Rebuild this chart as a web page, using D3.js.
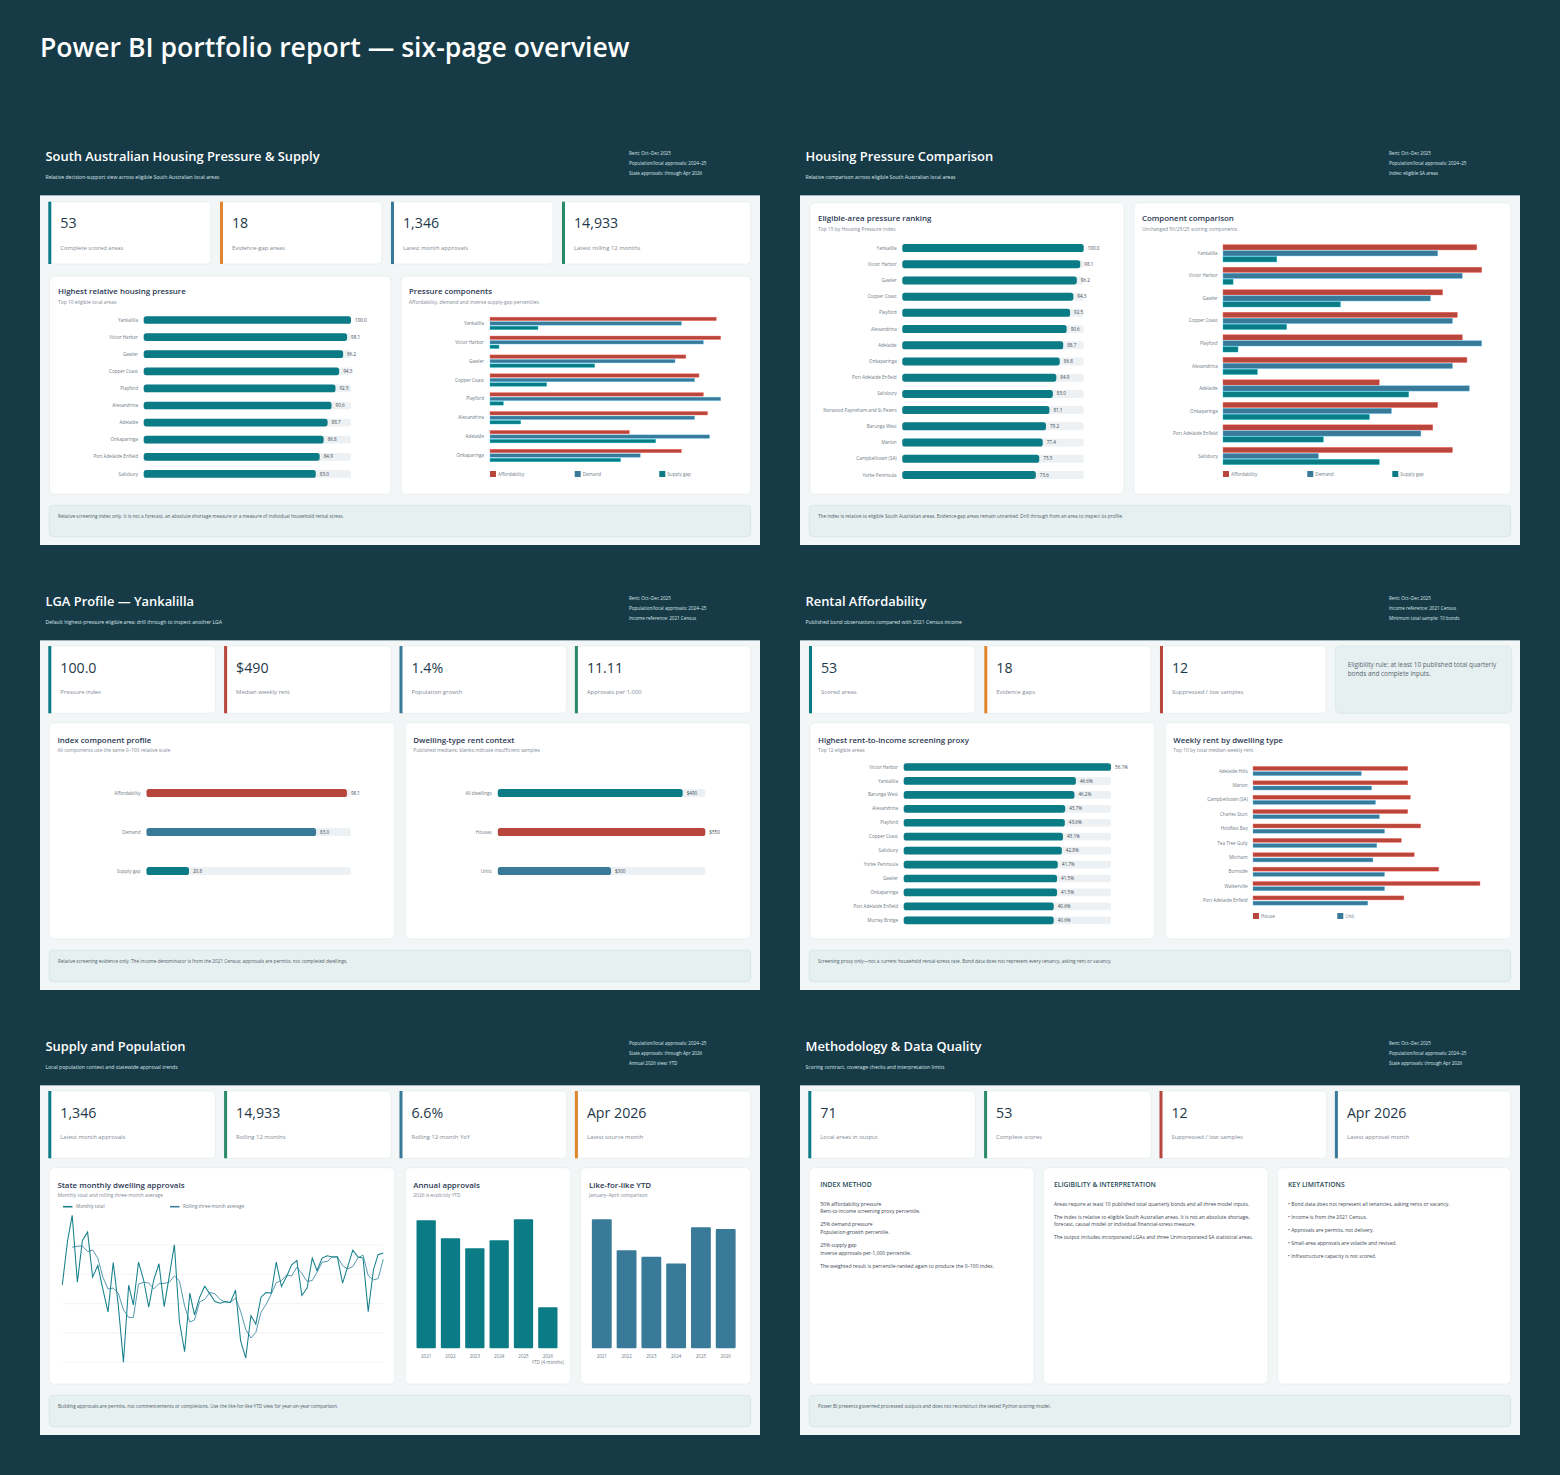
<!DOCTYPE html>
<html><head><meta charset="utf-8">
<script src="https://cdn.jsdelivr.net/npm/d3@7"></script>
<style>html,body{margin:0;padding:0;background:#163b47;}svg{display:block;}</style>
</head><body>
<svg id="c" width="1560" height="1475"></svg>
<script>
// ---------------- DATA ----------------
const reportTitle = "Power BI portfolio report — six-page overview";

const pressureNames = ["Yankalilla","Victor Harbor","Gawler","Copper Coast","Playford","Alexandrina","Adelaide","Onkaparinga","Port Adelaide Enfield","Salisbury","Norwood Payneham and St Peters","Barunga West","Marion","Campbelltown (SA)","Yorke Peninsula"];
const pressureValues = [100.0,98.1,96.2,94.3,92.5,90.6,88.7,86.8,84.9,83.0,81.1,79.2,77.4,75.5,73.6];

const componentNames = ["Yankalilla","Victor Harbor","Gawler","Copper Coast","Playford","Alexandrina","Adelaide","Onkaparinga","Port Adelaide Enfield","Salisbury"];
const componentSeries = ["Affordability","Demand","Supply gap"];
const affordability = [98.1,100.0,84.9,90.6,92.5,94.3,60.4,83.0,81.1,88.7];
const demand = [83.0,92.5,80.2,88.7,100.0,88.7,95.2,65.1,76.5,36.9];
const supplyGap = [20.8,3.9,45.4,24.6,5.8,13.3,71.8,56.6,38.8,60.4];

const profileNames = ["Affordability","Demand","Supply gap"];
const profileValues = [98.1,83.0,20.8];
const dwellingNames = ["All dwellings","Houses","Units"];
const dwellingRents = [490,550,300];

const proxyNames = ["Victor Harbor","Yankalilla","Barunga West","Alexandrina","Playford","Copper Coast","Salisbury","Yorke Peninsula","Gawler","Onkaparinga","Port Adelaide Enfield","Murray Bridge"];
const proxyValues = [56.1,46.6,46.2,43.7,43.6,43.1,42.8,41.7,41.5,41.5,40.6,40.6];

const rentNames = ["Adelaide Hills","Marion","Campbelltown (SA)","Charles Sturt","Holdfast Bay","Tea Tree Gully","Mitcham","Burnside","Walkerville","Port Adelaide Enfield"];
const rentSeries = ["House","Unit"];
const houseRents = [600,600,610,600,650,575,625,720,880,585];
const unitRents = [420,460,475,490,510,480,465,510,510,445];

const monthlyApprovals = [1128,1425,1602,1147,1431,1488,1181,1261,1094,944,1281,992,
  600,1126,992,1283,1163,976,1163,1272,980,1185,1402,878,
  673,1072,923,1044,1119,1067,1015,1003,1015,1008,1092,748,
  630,919,860,1044,1076,1072,1283,1117,1185,1265,1295,1056,
  1106,1311,1226,1311,1327,1318,1318,1140,1254,1365,1318,1311,
  946,1231,1334,1346];
const approvalGridValues = [600,800,1000,1200,1400];
const years = ["2021","2022","2023","2024","2025","2026"];
const annualApprovals = [15080,12960,11780,12720,15200,4830];
const ytdApprovals = [5220,3970,3700,3430,4900,4830];

// ---------------- STYLE ----------------
const F = "'Open Sans','Noto Sans',sans-serif";
const C = {bg:"#163b47", content:"#f3f6f7", card:"#ffffff", cardStroke:"#e1e7ea",
  teal:"#0b7b85", red:"#b8463c", blue:"#3a7a99", orange:"#e0862e", green:"#2a8a66",
  track:"#edf1f3", note:"#e7f0f1", noteStroke:"#d0e1e4", title:"#2b3853", sub:"#7f8a95",
  label:"#6f7b86", val:"#3a4651", kpi:"#1e3a4a", head:"#dbe6e9"};

const svg = d3.select("#c");
svg.append("rect").attr("width",1560).attr("height",1475).attr("fill",C.bg);

function T(g,x,y,s,size,fill,anchor="start",weight=400){
  return g.append("text").attr("x",x).attr("y",y).attr("font-family",F).attr("font-size",size)
    .attr("fill",fill).attr("text-anchor",anchor).attr("font-weight",weight).text(s);
}
T(svg,40,57,reportTitle,26.6,"#ffffff","start",600);

function makePage(px,py,title,subtitle,meta){
  const g = svg.append("g").attr("transform",`translate(${px},${py})`);
  g.append("rect").attr("y",55).attr("width",720).attr("height",350).attr("fill",C.content);
  g.append("line").attr("x1",0).attr("x2",720).attr("y1",55.5).attr("y2",55.5).attr("stroke","#8fa9b0").attr("stroke-width",0.8);
  T(g,5.5,20.5,title,12.9,"#ffffff","start",600);
  T(g,5.5,39,subtitle,5.1,C.head);
  meta.forEach((m,i)=>T(g,589,15+i*10,m,4.6,C.head));
  return g;
}
function kpi(g,x0,x1,y0,y1,value,label,color){
  g.append("rect").attr("x",x0).attr("y",y0).attr("width",x1-x0).attr("height",y1-y0).attr("rx",4)
    .attr("fill",C.card).attr("stroke",C.cardStroke).attr("stroke-width",0.6);
  g.append("rect").attr("x",x0).attr("y",y0).attr("width",3).attr("height",y1-y0).attr("fill",color);
  T(g,x0+12,y0+26.5,value,14.2,C.kpi,"start",500);
  T(g,x0+12,y0+47.8,label,5.9,C.sub);
}
function card(g,x0,x1,y0,y1){
  g.append("rect").attr("x",x0).attr("y",y0).attr("width",x1-x0).attr("height",y1-y0).attr("rx",5)
    .attr("fill",C.card).attr("stroke",C.cardStroke).attr("stroke-width",0.6);
}
function chartTitle(g,x,yc,title,sub){
  T(g,x,yc+2.9,title,7.9,C.title,"start",600);
  T(g,x,yc+12.7,sub,4.9,C.sub);
}
function noteBox(g,text){
  g.append("rect").attr("x",9.2).attr("y",365.3).attr("width",701.5).attr("height",31.4).attr("rx",4)
    .attr("fill",C.note).attr("stroke",C.noteStroke).attr("stroke-width",0.7);
  T(g,18,377.7,text,4.7,"#4d5b66");
}
function band(names,c0,pitch,barH){
  const p = 1-barH/pitch;
  return d3.scaleBand().domain(names).range([c0-pitch/2,c0+pitch*(names.length-0.5)]).paddingInner(p).paddingOuter(p/2);
}
function hbar(g,o){
  const y = band(o.names,o.c0,o.pitch,o.barH);
  const x = d3.scaleLinear().domain([0,o.max]).range([o.x0,o.x1]);
  const data = o.names.map((n,i)=>({n,v:o.values[i],c:o.colors?o.colors[i]:o.color}));
  g.selectAll(null).data(data).join("rect").attr("x",o.x0).attr("y",d=>y(d.n)).attr("width",o.x1-o.x0)
    .attr("height",y.bandwidth()).attr("rx",2.6).attr("fill",C.track);
  g.selectAll(null).data(data).join("rect").attr("x",o.x0).attr("y",d=>y(d.n)).attr("width",d=>x(d.v)-o.x0)
    .attr("height",y.bandwidth()).attr("rx",2.6).attr("fill",d=>d.c);
  data.forEach(d=>{
    const cy = y(d.n)+y.bandwidth()/2;
    T(g,o.labelRight,cy+1.6,d.n,4.6,C.label,"end");
    T(g,x(d.v)+4,cy+1.6,o.fmt(d.v),4.6,C.val);
  });
}
function gbar(g,o){
  const k = o.series.length;
  const groupH = k*o.barH+(k-1)*o.gap;
  const y = band(o.names,o.c0,o.pitch,groupH);
  const inner = d3.scaleBand().domain(o.series.map(s=>s.name)).range([0,groupH]).paddingInner(o.gap/(o.barH+o.gap)).paddingOuter(0);
  const x = d3.scaleLinear().domain([0,o.max]).range([o.x0,o.x1]);
  o.series.forEach(s=>{
    g.selectAll(null).data(o.names.map((n,i)=>({n,v:s.values[i]}))).join("rect")
      .attr("x",o.x0).attr("y",d=>y(d.n)+inner(s.name)).attr("width",d=>x(d.v)-o.x0)
      .attr("height",inner.bandwidth()).attr("fill",s.color)
      .attr("stroke",d3.color(s.color).brighter(1.3)).attr("stroke-width",0.4);
  });
  o.names.forEach(n=>T(g,o.labelRight,y(n)+groupH/2+1.6,n,4.6,C.label,"end"));
  o.series.forEach((s,i)=>{
    g.append("rect").attr("x",o.legendX[i]).attr("y",o.legendY-3).attr("width",6).attr("height",6).attr("fill",s.color);
    T(g,o.legendX[i]+8,o.legendY+1.6,s.name,4.6,C.label);
  });
}
const fmt1 = d3.format(".1f");
const std4 = [[8.3,175.4],[184.1,351.2],[359.5,526.6],[534.9,710.7]];
const compSeries = (n)=>[
  {name:componentSeries[0],values:affordability.slice(0,n),color:C.red},
  {name:componentSeries[1],values:demand.slice(0,n),color:C.blue},
  {name:componentSeries[2],values:supplyGap.slice(0,n),color:C.teal}];

// ---------------- PAGE 1 ----------------
{
  const g = makePage(40,140,"South Australian Housing Pressure & Supply","Relative decision-support view across eligible South Australian local areas",
    ["Rent: Oct–Dec 2025","Population/local approvals: 2024–25","State approvals: through Apr 2026"]);
  const ks = [[8.3,171],[180,342],[351,513],[522,710.7]];
  const kv = ["53","18","1,346","14,933"], kl = ["Complete scored areas","Evidence-gap areas","Latest month approvals","Latest rolling 12 months"];
  const kc = [C.teal,C.orange,C.blue,C.green];
  ks.forEach((k,i)=>kpi(g,k[0],k[1],61.7,124,kv[i],kl[i],kc[i]));
  card(g,9.5,351,136,354.3); card(g,361,711,136,354.3);
  chartTitle(g,18,151,"Highest relative housing pressure","Top 10 eligible local areas");
  hbar(g,{names:pressureNames.slice(0,10),values:pressureValues.slice(0,10),x0:103.7,x1:311,c0:180,pitch:17.1,barH:7.7,labelRight:98,max:100,color:C.teal,fmt:fmt1});
  chartTitle(g,369,151,"Pressure components","Affordability, demand and inverse supply-gap percentiles");
  gbar(g,{names:componentNames.slice(0,8),series:compSeries(8),x0:450,x1:680.7,c0:183.4,pitch:18.87,barH:3.5,gap:1,labelRight:444,max:100,legendY:334,legendX:[450,534.7,619.3]});
  noteBox(g,"Relative screening index only. It is not a forecast, an absolute shortage measure or a measure of individual household rental stress.");
}
// ---------------- PAGE 2 ----------------
{
  const g = makePage(800,140,"Housing Pressure Comparison","Relative comparison across eligible South Australian local areas",
    ["Rent: Oct–Dec 2025","Population/local approvals: 2024–25","Index: eligible SA areas"]);
  card(g,10,324,62.7,354.3); card(g,334,711,62.7,354.3);
  chartTitle(g,18,78.3,"Eligible-area pressure ranking","Top 15 by Housing Pressure Index");
  hbar(g,{names:pressureNames,values:pressureValues,x0:102.3,x1:283.7,c0:108,pitch:16.21,barH:8,labelRight:96.7,max:100,color:C.teal,fmt:fmt1});
  chartTitle(g,342,78.3,"Component comparison","Unchanged 50/25/25 scoring components");
  gbar(g,{names:componentNames,series:compSeries(10),x0:423,x1:681.7,c0:113.3,pitch:22.52,barH:5.3,gap:0.7,labelRight:417.7,max:100,legendY:334,legendX:[423,507.3,592.3]});
  noteBox(g,"The index is relative to eligible South Australian areas. Evidence-gap areas remain unranked. Drill through from an area to inspect its profile.");
}
// ---------------- PAGE 3 ----------------
{
  const g = makePage(40,585,"LGA Profile — Yankalilla","Default highest-pressure eligible area; drill through to inspect another LGA",
    ["Rent: Oct–Dec 2025","Population/local approvals: 2024–25","Income reference: 2021 Census"]);
  const kv = ["100.0","$490","1.4%","11.11"], kl = ["Pressure index","Median weekly rent","Population growth","Approvals per 1,000"];
  const kc = [C.teal,C.red,C.blue,C.green];
  std4.forEach((k,i)=>kpi(g,k[0],k[1],61,128.3,kv[i],kl[i],kc[i]));
  card(g,9.2,355,137.7,354); card(g,365,710.7,137.7,354);
  chartTitle(g,17.4,154.7,"Index component profile","All components use the same 0–100 relative scale");
  hbar(g,{names:profileNames,values:profileValues,x0:106.5,x1:310.8,c0:208,pitch:39,barH:8,labelRight:100.5,max:100,colors:[C.red,C.blue,C.teal],fmt:fmt1});
  chartTitle(g,373.3,154.7,"Dwelling-type rent context","Published medians; blanks indicate insufficient samples");
  hbar(g,{names:dwellingNames,values:dwellingRents,x0:457.8,x1:665.3,c0:208,pitch:39,barH:8,labelRight:451.8,max:d3.max(dwellingRents),colors:[C.teal,C.red,C.blue],fmt:d=>"$"+d});
  noteBox(g,"Relative screening evidence only. The income denominator is from the 2021 Census; approvals are permits, not completed dwellings.");
}
// ---------------- PAGE 4 ----------------
{
  const g = makePage(800,585,"Rental Affordability","Published bond observations compared with 2021 Census income",
    ["Rent: Oct–Dec 2025","Income reference: 2021 Census","Minimum total sample: 10 bonds"]);
  const ks = [[9,175],[184.3,351],[360,526]];
  const kv = ["53","18","12"], kl = ["Scored areas","Evidence gaps","Suppressed / low samples"], kc = [C.teal,C.orange,C.red];
  ks.forEach((k,i)=>kpi(g,k[0],k[1],61,128.3,kv[i],kl[i],kc[i]));
  g.append("rect").attr("x",535.3).attr("y",61).attr("width",176.4).attr("height",67.3).attr("rx",5).attr("fill",C.note).attr("stroke",C.noteStroke).attr("stroke-width",0.6);
  T(g,547.7,81.5,"Eligibility rule: at least 10 published total quarterly",6.4,"#56666f");
  T(g,547.7,90.5,"bonds and complete inputs.",6.4,"#56666f");
  card(g,10,355,137.7,354); card(g,365,711,137.7,354);
  chartTitle(g,18,154.7,"Highest rent-to-income screening proxy","Top 12 eligible areas");
  hbar(g,{names:proxyNames,values:proxyValues,x0:103.7,x1:311,c0:182,pitch:13.94,barH:7.7,labelRight:98,max:d3.max(proxyValues),color:C.teal,fmt:d=>d.toFixed(1)+"%"});
  chartTitle(g,373.3,154.7,"Weekly rent by dwelling type","Top 10 by total median weekly rent");
  gbar(g,{names:rentNames,series:[{name:rentSeries[0],values:houseRents,color:C.red},{name:rentSeries[1],values:unitRents,color:C.blue}],
    x0:453,x1:680,c0:186,pitch:14.39,barH:4,gap:1.2,labelRight:447.7,max:d3.max(houseRents),legendY:331,legendX:[453,537.3]});
  noteBox(g,"Screening proxy only—not a current household rental-stress rate. Bond data does not represent every tenancy, asking rent or vacancy.");
}
// ---------------- PAGE 5 ----------------
{
  const g = makePage(40,1030,"Supply and Population","Local population context and statewide approval trends",
    ["Population/local approvals: 2024–25","State approvals: through Apr 2026","Annual 2026 view: YTD"]);
  const kv = ["1,346","14,933","6.6%","Apr 2026"], kl = ["Latest month approvals","Rolling 12 months","Rolling 12-month YoY","Latest source month"];
  const kc = [C.teal,C.green,C.blue,C.orange];
  std4.forEach((k,i)=>kpi(g,k[0],k[1],61,128.3,kv[i],kl[i],kc[i]));
  card(g,9.2,355,137.7,354); card(g,365,530.7,137.7,354); card(g,540.4,710.7,137.7,354);
  chartTitle(g,17.4,154.7,"State monthly dwelling approvals","Monthly total and rolling three-month average");
  // line chart
  const months = d3.timeMonth.range(new Date(2021,0,1), new Date(2026,4,1));
  const x = d3.scaleTime().domain(d3.extent(months)).range([22.3,343.3]);
  const y = d3.scaleLinear().domain([600,1600]).range([332.3,185.7]);
  g.selectAll(null).data(approvalGridValues).join("line").attr("x1",22.3).attr("x2",343.3)
    .attr("y1",d=>y(d)).attr("y2",d=>y(d)).attr("stroke","#eceff2").attr("stroke-width",0.8);
  const monthly = months.map((m,i)=>({m,v:monthlyApprovals[i]}));
  const rolling = monthly.slice(2).map((d,i)=>({m:d.m,v:d3.mean(monthlyApprovals.slice(i,i+3))}));
  const line = d3.line().x(d=>x(d.m)).y(d=>y(d.v));
  g.append("path").datum(rolling).attr("d",line).attr("fill","none").attr("stroke","#4d93aa").attr("stroke-width",0.95);
  g.append("path").datum(monthly).attr("d",line).attr("fill","none").attr("stroke","#16808b").attr("stroke-width",1.05);
  [["Monthly total","#16808b",23],["Rolling three-month average","#3d819f",130]].forEach(([n,c,lx])=>{
    g.append("line").attr("x1",lx).attr("x2",lx+9.5).attr("y1",176.7).attr("y2",176.7).attr("stroke",c).attr("stroke-width",1.6);
    T(g,lx+13,178.3,n,4.6,C.label);
  });
  // annual
  chartTitle(g,373.3,154.7,"Annual approvals","2026 is explicitly YTD");
  const xa = d3.scaleBand().domain(years).range([374,520]).paddingInner(0.207).paddingOuter(0.1035);
  const ya = d3.scaleLinear().domain([0,d3.max(annualApprovals)]).range([318.3,189.3]);
  g.selectAll(null).data(years).join("rect").attr("x",d=>xa(d)).attr("width",xa.bandwidth())
    .attr("y",(d,i)=>ya(annualApprovals[i])).attr("height",(d,i)=>ya(0)-ya(annualApprovals[i])).attr("rx",1).attr("fill",C.teal);
  years.forEach(d=>T(g,xa(d)+xa.bandwidth()/2,328,d,4.5,C.label,"middle"));
  T(g,xa("2026")+xa.bandwidth()/2,334.3,"YTD (4 months)",4.5,C.label,"middle");
  // like-for-like
  chartTitle(g,549,154.7,"Like-for-like YTD","January–April comparison");
  const xl = d3.scaleBand().domain(years).range([549.4,698.1]).paddingInner(0.2).paddingOuter(0.1);
  const yl = d3.scaleLinear().domain([0,d3.max(ytdApprovals)]).range([318.3,189.3]);
  g.selectAll(null).data(years).join("rect").attr("x",d=>xl(d)).attr("width",xl.bandwidth())
    .attr("y",(d,i)=>yl(ytdApprovals[i])).attr("height",(d,i)=>yl(0)-yl(ytdApprovals[i])).attr("rx",1).attr("fill",C.blue);
  years.forEach(d=>T(g,xl(d)+xl.bandwidth()/2,328,d,4.5,C.label,"middle"));
  noteBox(g,"Building approvals are permits, not commencements or completions. Use the like-for-like YTD view for year-on-year comparison.");
}
// ---------------- PAGE 6 ----------------
{
  const g = makePage(800,1030,"Methodology & Data Quality","Scoring contract, coverage checks and interpretation limits",
    ["Rent: Oct–Dec 2025","Population/local approvals: 2024–25","State approvals: through Apr 2026"]);
  const kv = ["71","53","12","Apr 2026"], kl = ["Local areas in output","Complete scores","Suppressed / low samples","Latest approval month"];
  const kc = [C.teal,C.green,C.red,C.blue];
  std4.forEach((k,i)=>kpi(g,k[0],k[1],61,128.3,kv[i],kl[i],kc[i]));
  const cols = [
    {x0:9.2,x1:234.2,tx:20.2,head:"INDEX METHOD",lines:[
      ["50% affordability pressure",174],["Rent-to-income screening proxy percentile.",181.7],
      ["25% demand pressure",194.7],["Population-growth percentile.",202.3],
      ["25% supply gap",215.3],["Inverse approvals-per-1,000 percentile.",223],
      ["The weighted result is percentile-ranked again to produce the 0–100 index.",236]]},
    {x0:243.3,x1:467.9,tx:253.9,head:"ELIGIBILITY & INTERPRETATION",lines:[
      ["Areas require at least 10 published total quarterly bonds and all three model inputs.",174],
      ["The index is relative to eligible South Australian areas. It is not an absolute shortage,",187],
      ["forecast, causal model or individual financial-stress measure.",194.7],
      ["The output includes incorporated LGAs and three Unincorporated SA statistical areas.",207.7]]},
    {x0:477.5,x1:710.7,tx:488,head:"KEY LIMITATIONS",lines:[
      ["• Bond data does not represent all tenancies, asking rents or vacancy.",174],
      ["• Income is from the 2021 Census.",187],["• Approvals are permits, not delivery.",200],
      ["• Small-area approvals are volatile and revised.",213],["• Infrastructure capacity is not scored.",226]]}
  ];
  cols.forEach(c=>{
    card(g,c.x0,c.x1,137.7,354);
    T(g,c.tx,156.8,c.head,6.8,"#1f4a56","start",600);
    c.lines.forEach(([s,yc])=>T(g,c.tx,yc+1.7,s,5.0,"#3a4650"));
  });
  noteBox(g,"Power BI presents governed processed outputs and does not reconstruct the tested Python scoring model.");
}
</script>
</body></html>
